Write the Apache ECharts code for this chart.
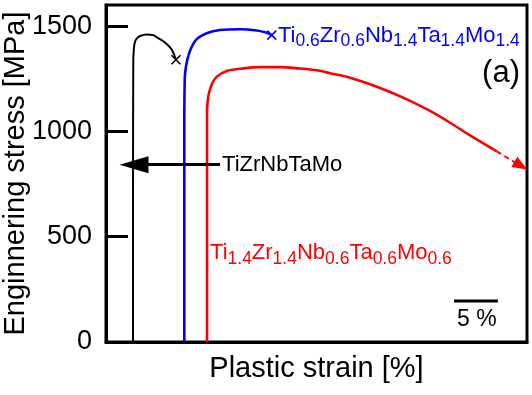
<!DOCTYPE html>
<html><head><meta charset="utf-8">
<script src="https://cdn.jsdelivr.net/npm/echarts@6/dist/echarts.min.js"></script>
<style>html,body{margin:0;padding:0;background:#fff}#c{width:532px;height:395px}</style>
</head><body><div id="c"></div>
<script>
// strain (%) relative to each curve's own start, stress (MPa)
const blackStrain = [0, 0, 0.03, 0.08, 0.19, 0.42, 0.80, 1.56, 2.31, 2.51, 3.46, 4.41, 4.90];
const blackStress = [0, 700, 1334, 1381, 1420, 1441, 1453, 1460, 1457, 1452, 1428, 1389, 1340];
const blueStrain = [0, 0, 0.03, 0.08, 0.31, 0.73, 1.41, 2.55, 4.07, 6.35, 8.26, 9.40, 9.97];
const blueStress = [0, 1100, 1206, 1272, 1334, 1391, 1438, 1466, 1481, 1485, 1479, 1468, 1457];
const redStrain = [0, 0, 0.03, 0.15, 0.54, 1.11, 2.25, 3.76, 6.04, 8.32, 10.38, 12.88, 14.03, 16.31, 18.59, 20.87, 23.15, 25.43, 27.71, 29.99, 33.03];
const redStress = [0, 1074, 1121, 1168, 1224, 1260, 1287, 1297, 1305, 1305, 1299, 1288, 1276, 1255, 1224, 1187, 1145, 1097, 1041, 981, 905];
// horizontal offsets of the curves (shifted for clarity)
const offsets = {black: 0, blue: 5.85, red: 8.44};
const redExtrapEnd = [35.77, 837];   // dashed arrow end (strain, stress)
const yTicks = [0, 500, 1000, 1500];
const scaleBar = [[36.6, 195], [41.6, 195]];

function pts(s, v, off) { return s.map((x, i) => [x + off, v[i]]); }
const blackPts = pts(blackStrain, blackStress, offsets.black);
const bluePts = pts(blueStrain, blueStress, offsets.blue);
const redPts = pts(redStrain, redStress, offsets.red);

const FF = '"Liberation Sans", Arial, sans-serif';
const sub = (t) => t.replace(/([A-Z][a-z]?)([0-9.]+)/g, '{m|$1}{s|$2}');
function richFor(color) {
  return {
    m: {fontSize: 22, color: color, fontFamily: FF},
    s: {fontSize: 17.5, color: color, fontFamily: FF, padding: [12, 0, 0, 0]}
  };
}

const chart = echarts.init(document.getElementById('c'), null, {renderer: 'canvas'});
chart.setOption({
  animation: false,
  backgroundColor: '#fff',
  grid: {left: 106, top: 5, right: 5, bottom: 53, show: true, borderColor: '#000', borderWidth: 3,
    containLabel: false, outerBoundsMode: 'none'},
  xAxis: {
    type: 'value', min: -3.08, max: 44.92,
    name: 'Plastic strain [%]', nameLocation: 'middle', nameGap: 12, nameMoveOverlap: false,
    nameTextStyle: {fontSize: 29, color: '#000', fontFamily: FF, verticalAlign: 'top'},
    axisLine: {show: true, onZero: false, lineStyle: {color: '#000', width: 3}},
    axisTick: {show: false}, axisLabel: {show: false}, splitLine: {show: false}
  },
  yAxis: {
    type: 'value', min: 0, max: 1600, interval: 500,
    name: 'Enginnering stress [MPa]', nameLocation: 'middle', nameGap: 76, nameMoveOverlap: false,
    nameTextStyle: {fontSize: 29, color: '#000', fontFamily: FF},
    axisLine: {show: true, onZero: false, lineStyle: {color: '#000', width: 3}},
    axisTick: {show: true, inside: true, length: 22, lineStyle: {color: '#000', width: 3}, customValues: yTicks},
    axisLabel: {fontSize: 27, color: '#000', fontFamily: FF, margin: 14, customValues: yTicks, formatter: (v) => String(v)},
    splitLine: {show: false}
  },
  series: [
    {type: 'line', data: blackPts, showSymbol: false, smooth: 0.25, lineStyle: {color: '#000', width: 2}, z: 3,
      markLine: {silent: true, symbol: ['none', 'triangle'], symbolSize: [17, 29], label: {show: false},
        lineStyle: {color: '#000', width: 3, type: 'solid'},
        data: [[{coord: [9.92, 842]}, {coord: [0.11, 842]}]]}},
    {type: 'line', data: bluePts, showSymbol: false, smooth: 0.25, lineStyle: {color: '#0000ff', width: 2.6}, z: 3},
    {type: 'line', data: redPts, showSymbol: false, smooth: 0.3, lineStyle: {color: '#ff0000', width: 2.6}, z: 3,
      markLine: {silent: true, symbol: ['none', 'triangle'], symbolSize: [12, 15], label: {show: false},
        lineStyle: {color: '#ff0000', width: 2, type: [5, 4]},
        data: [[{coord: redPts[redPts.length - 1]}, {coord: [redExtrapEnd[0] + offsets.red, redExtrapEnd[1]]}]]}},
    {type: 'scatter', symbol: 'path://M0,0L10,10M0,10L10,0', symbolSize: 9, z: 4, silent: true,
      itemStyle: {color: 'none', borderWidth: 1.5, opacity: 1},
      data: [
        {value: blackPts[blackPts.length - 1], itemStyle: {borderColor: '#000'}},
        {value: bluePts[bluePts.length - 1], itemStyle: {borderColor: '#0000ff'}}
      ]},
    {type: 'line', data: scaleBar, showSymbol: false, lineStyle: {color: '#000', width: 3}, z: 3},
    {type: 'scatter', symbolSize: 0, z: 5, silent: true, itemStyle: {opacity: 1},
      data: [
        {value: [16.53, 1455], label: {show: true, position: 'right', distance: 0, formatter: sub('Ti0.6Zr0.6Nb1.4Ta1.4Mo1.4'), rich: richFor('#0000ff')}},
        {value: [8.78, 421], label: {show: true, position: 'right', distance: 0, formatter: sub('Ti1.4Zr1.4Nb0.6Ta0.6Mo0.6'), rich: richFor('#ff0000')}},
        {value: [10.15, 842], label: {show: true, position: 'right', distance: 0, formatter: 'TiZrNbTaMo', fontSize: 22, color: '#000', fontFamily: FF}},
        {value: [41.96, 1277], label: {show: true, position: 'inside', formatter: '(a)', fontSize: 31, color: '#000', fontFamily: FF}},
        {value: [39.2, 104], label: {show: true, position: 'inside', formatter: '5 %', fontSize: 23, color: '#000', fontFamily: FF}}
      ]}
  ]
});
</script></body></html>
